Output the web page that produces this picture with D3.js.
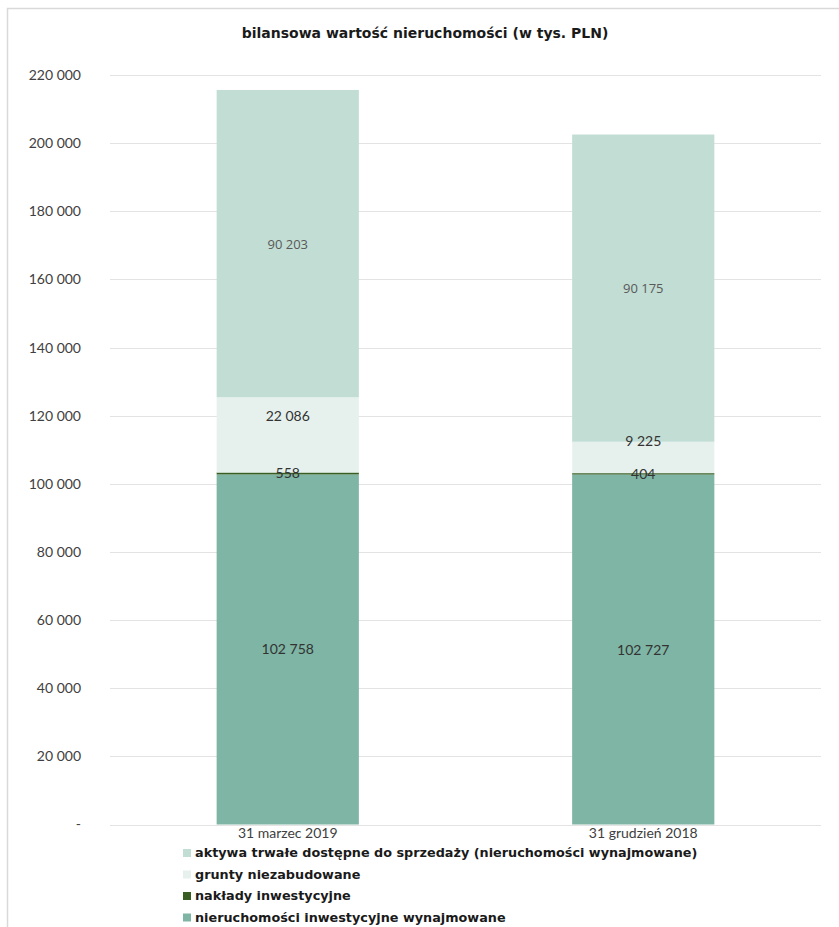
<!DOCTYPE html>
<html>
<head>
<meta charset="utf-8">
<script src="https://cdn.jsdelivr.net/npm/d3@7"></script>
<style>
  body { margin: 0; background: #fff; }
  svg { display: block; }
</style>
</head>
<body>
<div id="chart"></div>
<script>
const categories = ['31 marzec 2019', '31 grudzień 2018'];
const seriesNames = [
  'nieruchomości inwestycyjne wynajmowane',
  'nakłady inwestycyjne',
  'grunty niezabudowane',
  'aktywa trwałe dostępne do sprzedaży (nieruchomości wynajmowane)'
];
const wynajmowane = [102758, 102727];
const naklady = [558, 404];
const grunty = [22086, 9225];
const aktywa = [90203, 90175];
const yTicks = [0, 20000, 40000, 60000, 80000, 100000, 120000, 140000, 160000, 180000, 200000, 220000];

const colors = ['#7eb5a4', '#375f23', '#e6f1ed', '#c2ddd4'];
// label nudges (px), the original had some labels moved by hand
const labelShift = [[0, 0], [0, 0], [-19, -16], [0, 0]];

const width = 839, height = 927;
const margin = { left: 110, right: 18, top: 75, bottom: 103 };

const svg = d3.select('#chart').append('svg').attr('width', width).attr('height', height);

// outer frame
svg.append('path').attr('d', `M7.5,${height} V8.5 H${width}`)
  .attr('fill', 'none').attr('stroke', '#d9d9d9').attr('stroke-width', 1.5);

svg.append('text').attr('x', 425).attr('y', 38).attr('text-anchor', 'middle')
  .style('font-family', '"DejaVu Sans", sans-serif').style('font-weight', 'bold').style('font-size', '14px')
  .attr('fill', '#1a1a1a').text('bilansowa wartość nieruchomości (w tys. PLN)');

const y = d3.scaleLinear().domain([0, 220000]).range([height - margin.bottom + 0.5, margin.top]);
const x = d3.scaleBand().domain(categories).range([margin.left, width - margin.right]).paddingInner(0.6).paddingOuter(0.3);

const fmt = v => v === 0 ? '-' : d3.format(',')(v).replace(/,/g, ' ');

// gridlines
svg.append('g').selectAll('line').data(yTicks).join('line')
  .attr('x1', margin.left).attr('x2', width - margin.right)
  .attr('y1', d => Math.round(y(d)) + 0.5).attr('y2', d => Math.round(y(d)) + 0.5)
  .attr('stroke', '#e3e3e3').attr('stroke-width', 1);

// y axis labels
const yAxis = d3.axisLeft(y).tickValues(yTicks).tickFormat(fmt).tickSize(0).tickPadding(0);
const ya = svg.append('g').attr('transform', 'translate(81,0)').call(yAxis);
ya.select('.domain').remove();
ya.selectAll('text').style('font-family', 'Lato, sans-serif').style('font-size', '14px').attr('fill', '#404040');

// stacked bars
const table = categories.map((c, i) => ({ cat: c, s0: wynajmowane[i], s1: naklady[i], s2: grunty[i], s3: aktywa[i] }));
const stack = d3.stack().keys(['s0', 's1', 's2', 's3'])(table);

const layers = svg.append('g').selectAll('g').data(stack).join('g').attr('fill', (d, i) => colors[i]);
layers.selectAll('rect').data(d => d).join('rect')
  .attr('x', d => x(d.data.cat)).attr('width', x.bandwidth())
  .attr('y', d => y(d[1])).attr('height', d => Math.max(1.2, y(d[0]) - y(d[1])));

// data labels
stack.forEach((layer, si) => {
  svg.append('g').selectAll('text').data(layer).join('text')
    .attr('x', d => x(d.data.cat) + x.bandwidth() / 2)
    .attr('y', (d, ci) => (y(d[0]) + y(d[1])) / 2 + 5 + labelShift[si][ci])
    .attr('text-anchor', 'middle')
    .style('font-family', si === 3 ? '"Open Sans", sans-serif' : 'Lato, sans-serif')
    .style('font-size', si === 3 ? '13px' : '14px')
    .attr('fill', si === 3 ? '#595959' : '#333')
    .text(d => fmt(d[1] - d[0]));
});

// x labels
svg.append('g').selectAll('text').data(categories).join('text')
  .attr('x', d => x(d) + x.bandwidth() / 2).attr('y', 838).attr('text-anchor', 'middle')
  .style('font-family', 'Lato, sans-serif').style('font-size', '14px').attr('fill', '#404040')
  .text(d => d);

// legend
const legendOrder = [3, 2, 1, 0];
const lg = svg.append('g').selectAll('g').data(legendOrder).join('g')
  .attr('transform', (d, i) => `translate(183,${857 + i * 21.5})`);
lg.append('rect').attr('x', 0).attr('y', -8).attr('width', 8).attr('height', 8).attr('fill', d => colors[d]);
lg.append('text').attr('x', 12).attr('y', 0)
  .style('font-family', '"DejaVu Sans", sans-serif').style('font-weight', 'bold').style('font-size', '12.8px').attr('fill', '#1a1a1a')
  .text(d => seriesNames[d]);
</script>
</body>
</html>
